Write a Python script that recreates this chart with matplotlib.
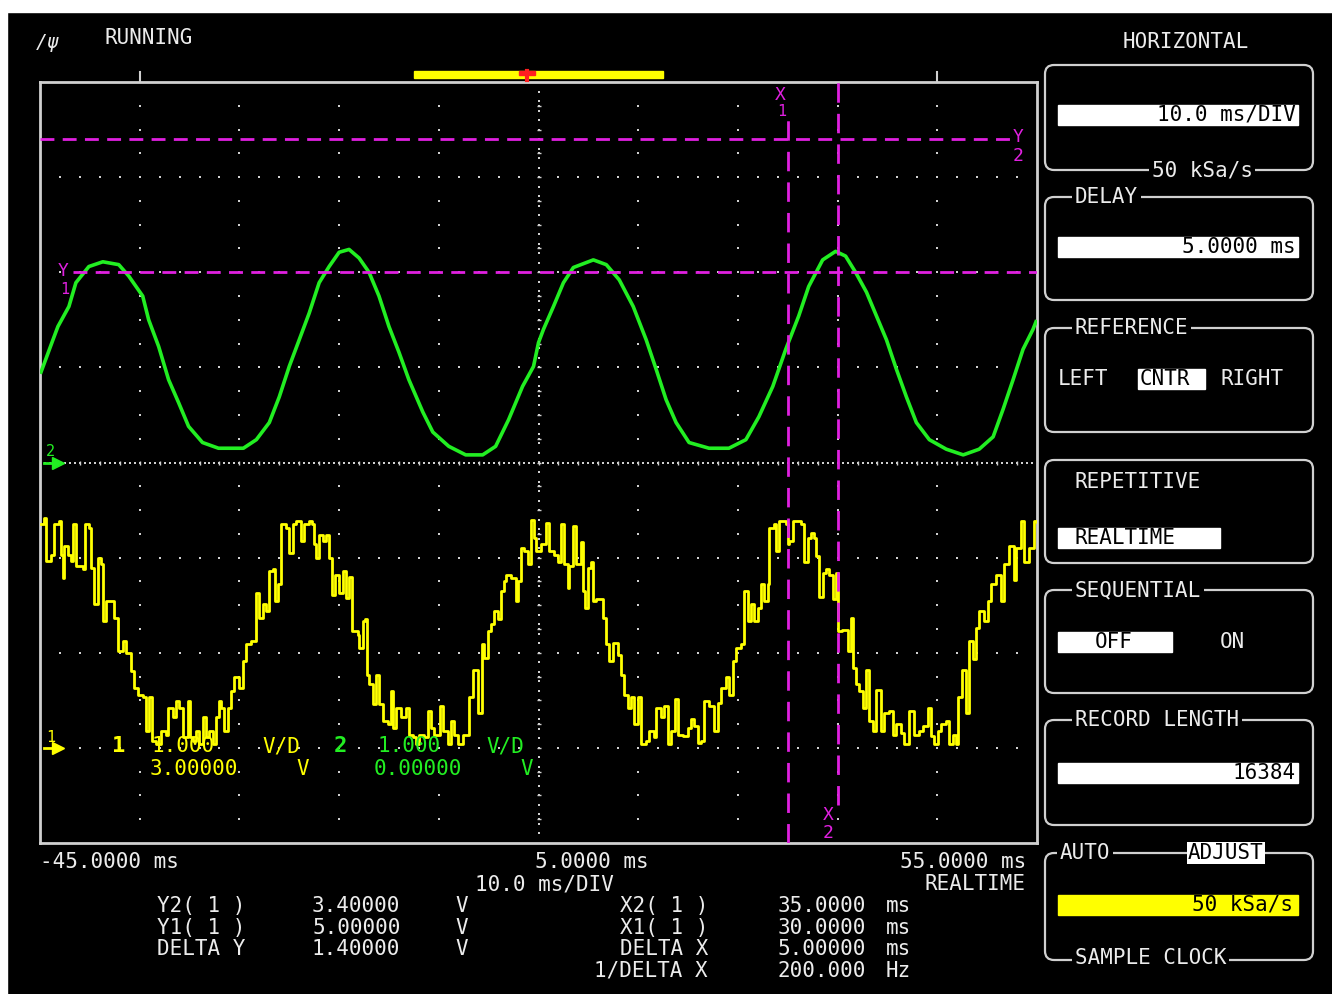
import numpy as np
import matplotlib
matplotlib.use("Agg")
import matplotlib.pyplot as plt
from matplotlib.patches import Rectangle, FancyBboxPatch

# screen settings
t_left, t_right = -45.0, 55.0   # ms
ms_per_div = 10.0
ch1_offset = 3.0                 # V at screen centre
ch2_offset = 0.0

# channel 2 (green), time in ms, volts
ch2_t = [-44.9, -43.7, -43.2, -42.1, -41.4, -40.1, -38.7, -37.1, -36.1, -34.7,
         -34.1, -33.1, -32.1, -31.1, -30.1, -28.7, -27.1, -24.6, -23.3, -22.0,
         -21.0, -20.0, -19.0, -18.0, -17.0, -16.0, -15.0, -14.0, -13.0, -12.0,
         -11.0, -10.0, -9.0, -8.0, -6.6, -5.6, -4.0, -2.3, -0.6, 0.7,
         2.0, 3.4, 4.5, 5.0, 5.5, 6.5, 7.5, 8.5, 10.5, 11.8,
         13.1, 14.5, 15.8, 16.8, 17.8, 18.8, 20.1, 22.1, 24.1, 25.8,
         27.1, 28.5, 29.8, 31.1, 32.1, 33.5, 34.8, 35.8, 36.8, 37.9,
         38.9, 39.9, 40.9, 41.9, 42.9, 44.2, 45.9, 47.6, 49.2, 50.6,
         51.6, 52.6, 53.6, 54.6, 54.9]
ch2_v = [0.95, 1.29, 1.43, 1.64, 1.89, 2.06, 2.11, 2.08, 1.96, 1.75,
         1.50, 1.22, 0.87, 0.63, 0.38, 0.21, 0.15, 0.15, 0.24, 0.42,
         0.69, 1.01, 1.29, 1.57, 1.89, 2.06, 2.21, 2.24, 2.15, 2.00,
         1.75, 1.43, 1.16, 0.87, 0.53, 0.32, 0.17, 0.08, 0.08, 0.17,
         0.45, 0.80, 1.01, 1.26, 1.40, 1.64, 1.89, 2.05, 2.13, 2.08,
         1.92, 1.64, 1.29, 0.98, 0.66, 0.42, 0.21, 0.15, 0.15, 0.24,
         0.48, 0.80, 1.19, 1.54, 1.85, 2.13, 2.22, 2.17, 2.00, 1.79,
         1.54, 1.29, 0.98, 0.69, 0.42, 0.24, 0.14, 0.08, 0.14, 0.27,
         0.56, 0.87, 1.19, 1.40, 1.48]

# channel 1 (yellow, noisy), time in ms, volts
ch1_t = [-44.90, -44.56, -44.40, -43.90, -43.56, -43.06, -42.89, -42.73, -42.56, -42.22,
         -41.89, -41.66, -41.39, -40.72, -40.45, -40.12, -39.88, -39.55, -39.22, -38.88,
         -38.71, -38.38, -37.54, -37.21, -36.71, -36.37, -35.87, -35.54, -35.20, -34.70,
         -34.37, -34.03, -33.77, -33.37, -32.86, -32.36, -32.20, -31.69, -31.36, -31.03,
         -30.69, -30.19, -29.96, -29.69, -29.35, -29.02, -28.69, -28.35, -28.02, -27.68,
         -27.35, -27.08, -26.85, -26.51, -26.18, -25.84, -25.51, -25.01, -24.67, -24.34,
         -23.84, -23.34, -23.00, -22.67, -22.33, -22.00, -21.66, -21.40, -21.16, -20.83,
         -20.33, -19.99, -19.66, -19.32, -18.82, -18.49, -17.99, -17.72, -17.49, -17.32,
         -17.05, -16.65, -16.32, -16.05, -15.71, -15.38, -14.98, -14.64, -14.31, -13.98,
         -13.71, -13.14, -12.97, -12.64, -12.37, -12.24, -11.97, -11.64, -11.30, -10.97,
         -10.63, -10.13, -9.80, -9.56, -9.30, -8.79, -8.29, -7.96, -7.62, -7.29,
         -6.96, -6.45, -6.12, -5.79, -5.45, -4.88, -4.55, -4.11, -3.78, -3.45,
         -3.11, -2.61, -2.21, -1.94, -1.61, -1.11, -0.67, -0.44, -0.10, 0.23,
         0.57, 0.90, 1.23, 1.57, 1.74, 2.24, 2.74, 2.91, 3.24, 3.57,
         3.91, 4.24, 4.58,
         4.75, 5.25, 5.75, 6.09, 6.59, 6.92, 7.26, 7.59, 7.93, 8.09,
         8.43, 8.76, 9.26, 9.43, 9.70, 9.93, 10.27, 10.50, 10.77, 11.44,
         11.77, 12.10, 12.44, 12.94, 13.27, 13.61, 13.94, 14.28, 14.61, 14.95,
         15.28, 15.78, 16.12, 16.62, 16.78, 17.29, 17.62, 17.95, 18.29, 18.72,
         18.96, 19.46, 19.96, 20.29, 20.63, 20.96, 21.30, 21.63, 22.13, 22.63,
         22.97, 23.30, 23.81, 24.14, 24.47, 24.81, 25.31, 25.64, 25.98, 26.31,
         26.65, 26.98, 27.32, 27.65, 27.98, 28.15, 28.65, 28.82, 29.15, 29.82,
         29.99, 30.16, 30.49, 30.99, 31.33, 31.66, 31.99, 32.33, 32.66, 32.83,
         33.17, 33.50, 33.83, 34.17, 34.50, 34.84, 35.00, 35.44, 36.01, 36.34,
         36.51, 36.84, 37.18, 37.51, 37.85, 38.18, 38.51, 38.85, 39.35, 39.68,
         40.19, 40.52, 40.85, 41.36, 41.69, 42.19, 42.69, 43.19, 43.53, 44.03,
         44.36, 44.70, 45.03, 45.37, 45.87, 46.20, 46.54, 46.87, 47.04, 47.47,
         47.87, 48.21, 48.54, 48.88, 49.21, 49.71, 50.05, 50.38, 50.88, 51.38,
         51.72, 52.22, 52.72, 52.89, 53.39, 53.72, 54.23, 54.73, 55.00]
ch1_v = [2.35, 2.42, 1.96, 2.03, 2.35, 2.38, 2.03, 1.79, 2.12, 2.03,
         1.96, 2.35, 1.91, 1.88, 2.35, 2.31, 1.89, 1.51, 2.00, 1.93,
         1.33, 1.54, 1.37, 1.02, 1.12, 1.00, 0.81, 0.63, 0.56, 0.53,
         0.18, 0.53, 0.07, 0.04, 0.18, 0.14, 0.42, 0.32, 0.49, 0.42,
         0.11, 0.49, 0.11, 0.07, 0.18, 0.04, 0.32, 0.11, 0.18, 0.04,
         0.32, 0.49, 0.42, 0.18, 0.42, 0.60, 0.74, 0.63, 0.91, 1.09,
         1.12, 1.63, 1.37, 1.51, 1.44, 1.86, 1.88, 1.54, 1.72, 2.35,
         2.31, 2.05, 2.35, 2.38, 2.17, 2.35, 2.38, 2.35, 2.14, 2.00,
         2.24, 2.17, 2.24, 2.00, 1.61, 1.82, 1.63, 1.86, 1.58, 1.80,
         1.23, 1.19, 1.05, 1.33, 1.35, 0.77, 0.67, 0.46, 0.77, 0.46,
         0.28, 0.25, 0.60, 0.21, 0.42, 0.32, 0.42, 0.14, 0.11, 0.04,
         0.14, 0.11, 0.39, 0.21, 0.14, 0.44, 0.18, 0.04, 0.28, 0.14,
         0.04, 0.14, 0.14, 0.53, 0.82, 0.37, 1.09, 0.95, 1.23, 1.30,
         1.44, 1.35, 1.65, 1.75, 1.82, 1.79, 1.54, 1.75, 2.10, 2.07,
         1.93, 2.40, 2.21,
         2.07, 2.14, 2.36, 2.07, 2.03, 1.95, 2.35, 1.93, 1.68, 1.91,
         2.33, 1.93, 2.16, 1.65, 1.47, 1.89, 1.95, 1.54, 1.56, 1.37,
         1.09, 0.91, 1.10, 0.98, 0.77, 0.56, 0.42, 0.53, 0.25, 0.53,
         0.04, 0.07, 0.18, 0.11, 0.42, 0.32, 0.44, 0.04, 0.18, 0.51,
         0.14, 0.12, 0.21, 0.30, 0.23, 0.05, 0.07, 0.49, 0.44, 0.18,
         0.47, 0.63, 0.74, 0.56, 0.91, 1.05, 1.09, 1.65, 1.33, 1.51,
         1.33, 1.47, 1.72, 1.54, 1.72, 2.31, 2.35, 2.07, 2.38, 2.35,
         2.14, 2.17, 2.38, 2.38, 2.35, 1.95, 2.21, 2.26, 2.21, 2.02,
         1.59, 1.84, 1.88, 1.82, 1.56, 1.84, 1.23, 1.24, 1.02, 1.37,
         0.84, 0.67, 0.60, 0.42, 0.82, 0.28, 0.18, 0.61, 0.18, 0.37,
         0.39, 0.14, 0.25, 0.16, 0.04, 0.39, 0.14, 0.18, 0.23, 0.42,
         0.12, 0.04, 0.18, 0.25, 0.28, 0.04, 0.14, 0.04, 0.53, 0.82,
         0.37, 1.12, 0.93, 1.26, 1.44, 1.33, 1.54, 1.72, 1.82, 1.54,
         1.93, 2.12, 1.77, 2.10, 2.38, 1.95, 2.10, 2.38, 2.37]

# cursors (time in ms, level in screen divisions)
cursor_x = [30.0, 35.0]
cursor_y = [2.0, 3.4]

readout_y_labels = ["Y2( 1 )", "Y1( 1 )", "DELTA Y"]
readout_y_values = ["3.40000", "5.00000", "1.40000"]
readout_x_labels = ["X2( 1 )", "X1( 1 )", "DELTA X", "1/DELTA X"]
readout_x_values = ["35.0000", "30.0000", "5.00000", "200.000"]
readout_x_units = ["ms", "ms", "ms", "Hz"]

W, H = 1332, 994
fig = plt.figure(figsize=(W / 100, H / 100), dpi=100, facecolor="black")
mono = "DejaVu Sans Mono"
white = "#ececec"
grey = "#d0d0d0"
green = "#22ee22"
yellow = "#ffff00"
magenta = "#e020e0"

# screen area
ax = fig.add_axes([40 / W, 1 - 843 / H, 997 / W, 761 / H])
ax.set_facecolor("black")
ax.set_xlim(t_left, t_right)
ax.set_ylim(-4, 4)
ax.set_xticks([])
ax.set_yticks([])
for s in ax.spines.values():
    s.set_color(grey)
    s.set_linewidth(2)

# dotted graticule
for xm in np.arange(t_left + ms_per_div, t_right, ms_per_div):
    yy = np.arange(-3.75, 4, 0.25)
    ax.scatter(np.full(len(yy), xm), yy, s=2.5, marker="s", color=grey, lw=0, zorder=1)
for ym in np.arange(-3, 4, 1):
    xx = np.arange(t_left + 2, t_right, 2)
    ax.scatter(xx, np.full(len(xx), ym), s=2.5, marker="s", color=grey, lw=0, zorder=1)
t_mid = (t_left + t_right) / 2
yy = np.arange(-3.9, 4, 0.1)
ax.scatter(np.full(len(yy), t_mid), yy, s=2.5, marker="s", color=grey, lw=0, zorder=1)
yy = np.arange(-3.75, 4, 0.25)
ax.scatter(np.full(len(yy), t_mid), yy, s=12, marker="_", color=grey, lw=1, zorder=1)
xx = np.arange(t_left + 0.5, t_right, 0.5)
ax.scatter(xx, np.zeros(len(xx)), s=2.5, marker="s", color=grey, lw=0, zorder=1)
xx = np.arange(t_left + 2, t_right, 2)
ax.scatter(xx, np.zeros(len(xx)), s=12, marker="|", color=grey, lw=1, zorder=1)

# traces
ax.plot(ch2_t, np.array(ch2_v) - ch2_offset, color=green, lw=2.6, zorder=3)
ax.plot(ch1_t, np.array(ch1_v) - ch1_offset, color=yellow, lw=2.0,
        drawstyle="steps-post", zorder=4)

# cursors
ax.axhline(cursor_y[1], xmin=0, xmax=0.975, color=magenta, lw=2, dashes=(5, 3), zorder=5)
ax.axhline(cursor_y[0], xmin=0.033, xmax=1, color=magenta, lw=2, dashes=(5, 3), zorder=5)
ax.axvline(cursor_x[0], ymin=0, ymax=0.95, color=magenta, lw=2, dashes=(7, 4), zorder=5)
ax.axvline(cursor_x[1], ymin=0.05, ymax=1, color=magenta, lw=2, dashes=(7, 4), zorder=5)

# overlay in pixel units for the screen furniture
ov = fig.add_axes([0, 0, 1, 1], facecolor="none")
ov.set_xlim(0, W)
ov.set_ylim(H, 0)
ov.axis("off")

ov.add_patch(Rectangle((0, 0), W, 12, color="white", zorder=0))
ov.add_patch(Rectangle((0, 0), 7, H, color="white", zorder=0))


def txt(x, y, s, color=white, size=14, ha="left", **kw):
    ov.text(x, y, s, color=color, fontsize=size, ha=ha, va="center",
            family=mono, **kw)


txt(36, 42, "/\u03c8", size=14, style="italic")
txt(105, 38, "RUNNING", size=15)

# top marks and delay bar
for xt in [140, 937]:
    ov.plot([xt, xt], [72, 82], color=grey, lw=1.5)
ov.add_patch(Rectangle((414, 71), 249, 7, color=yellow, zorder=3))
ov.add_patch(Rectangle((519, 71), 16, 4, color="#ff2020", zorder=4))
ov.plot([527, 527], [71, 80], color="#ff2020", lw=3, zorder=4)

# cursor tags
txt(63, 271, "Y", color=magenta, size=13, ha="center")
txt(65, 289, "1", color=magenta, size=11, ha="center")
txt(1018, 137, "Y", color=magenta, size=13, ha="center")
txt(1018, 156, "2", color=magenta, size=13, ha="center")
txt(780, 95, "X", color=magenta, size=13, ha="center")
txt(782, 112, "1", color=magenta, size=11, ha="center")
txt(828, 815, "X", color=magenta, size=13, ha="center")
txt(828, 833, "2", color=magenta, size=13, ha="center")

# ground markers
txt(46, 452, "2", color=green, size=11)
ov.plot([58], [463], marker=">", color=green, ms=8)
ov.plot([44, 58], [463, 463], color=green, lw=2)
txt(46, 738, "1", color=yellow, size=11)
ov.plot([58], [748], marker=">", color=yellow, ms=8)
ov.plot([44, 58], [748, 748], color=yellow, lw=2)

# channel settings
txt(112, 746, "1", color=yellow, size=16, weight="bold")
txt(152, 746, "1.000", color=yellow, size=15)
txt(262, 746, "V/D", color=yellow, size=15)
txt(150, 769, "3.00000", color=yellow, size=15)
txt(296, 769, "V", color=yellow, size=15)
txt(334, 746, "2", color=green, size=16, weight="bold")
txt(378, 746, "1.000", color=green, size=15)
txt(486, 746, "V/D", color=green, size=15)
txt(374, 769, "0.00000", color=green, size=15)
txt(520, 769, "V", color=green, size=15)

# time labels
txt(40, 862, "-45.0000 ms", size=15)
txt(535, 862, "5.0000 ms", size=15)
txt(1026, 862, "55.0000 ms", size=15, ha="right")
txt(475, 884, "10.0 ms/DIV", size=15)
txt(1026, 884, "REALTIME", size=15, ha="right")

# cursor readouts
rows = [906, 928, 949, 971]
for i, lab in enumerate(readout_y_labels):
    txt(245, rows[i], lab, size=15, ha="right")
    txt(312, rows[i], readout_y_values[i], size=15)
    txt(455, rows[i], "V", size=15)
for i, lab in enumerate(readout_x_labels):
    txt(708, rows[i], lab, size=15, ha="right")
    txt(866, rows[i], readout_x_values[i], size=15, ha="right")
    txt(886, rows[i], readout_x_units[i], size=15)

# right hand menu
txt(1186, 42, "HORIZONTAL", size=15, ha="center")
boxes = [(65, 105), (197, 103), (328, 104), (460, 103), (590, 103), (720, 105), (853, 107)]
for by, bh in boxes:
    ov.add_patch(FancyBboxPatch((1045, by), 268, bh,
                                boxstyle="round,pad=0,rounding_size=9",
                                fc="none", ec=grey, lw=1.6, zorder=1))

bg = dict(facecolor="black", edgecolor="none", pad=2)
inv = dict(facecolor="white", edgecolor="none", pad=1)


def field(x, y, w, color="white"):
    ov.add_patch(Rectangle((x, y), w, 20, color=color, zorder=2))


field(1058, 105, 240)
txt(1296, 115, "10.0 ms/DIV", color="black", size=15, ha="right", zorder=3)
txt(1202, 170, "50 kSa/s", size=15, ha="center", bbox=bg, zorder=3)

txt(1075, 197, "DELAY", size=15, bbox=bg, zorder=3)
field(1058, 237, 240)
txt(1296, 247, "5.0000 ms", color="black", size=15, ha="right", zorder=3)

txt(1075, 328, "REFERENCE", size=15, bbox=bg, zorder=3)
txt(1058, 379, "LEFT", size=15)
field(1138, 369, 67)
txt(1140, 379, "CNTR", color="black", size=15, zorder=3)
txt(1220, 379, "RIGHT", size=15)

txt(1075, 482, "REPETITIVE", size=15)
field(1058, 528, 162)
txt(1075, 538, "REALTIME", color="black", size=15, zorder=3)

txt(1075, 590, "SEQUENTIAL", size=15, bbox=bg, zorder=3)
field(1058, 632, 114)
txt(1095, 642, "OFF", color="black", size=15, zorder=3)
txt(1220, 642, "ON", size=15)

txt(1075, 720, "RECORD LENGTH", size=15, bbox=bg, zorder=3)
field(1058, 763, 240)
txt(1296, 773, "16384", color="black", size=15, ha="right", zorder=3)

txt(1060, 853, "AUTO", size=15, bbox=bg, zorder=3)
txt(1188, 853, "ADJUST", color="black", size=15, bbox=inv, zorder=3)
field(1058, 895, 240, color=yellow)
txt(1293, 905, "50 kSa/s", color="black", size=15, ha="right", zorder=3)
txt(1075, 958, "SAMPLE CLOCK", size=15, bbox=bg, zorder=3)

fig.savefig("out.png", dpi=100, facecolor="black")
